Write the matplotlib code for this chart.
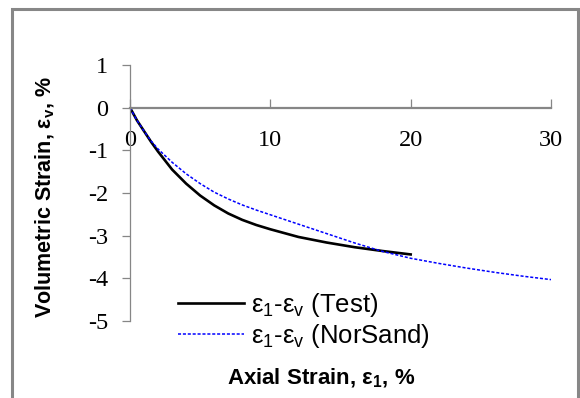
import matplotlib
matplotlib.use("Agg")
import matplotlib.pyplot as plt
from matplotlib.patches import Rectangle

plt.rcParams['mathtext.fontset'] = 'custom'
plt.rcParams['mathtext.rm'] = 'Liberation Sans'
plt.rcParams['mathtext.it'] = 'Liberation Sans:italic'
plt.rcParams['mathtext.bf'] = 'Liberation Sans:bold'

# Data
test_x = [0, 0.5, 1, 1.5, 2, 3, 4, 5, 6, 7, 8, 9, 10, 12, 14, 16, 18, 20]
test_y = [0, -0.3, -0.55, -0.8, -1.03, -1.45, -1.78, -2.06, -2.29, -2.48, -2.63,
          -2.75, -2.85, -3.03, -3.16, -3.27, -3.36, -3.44]
ns_x = [0, 0.5, 1, 1.5, 2, 3, 4, 5, 6, 7, 8, 9, 10, 12, 14, 16, 18, 20, 22, 24, 26, 28, 30]
ns_y = [0, -0.3, -0.55, -0.78, -0.97, -1.28, -1.55, -1.78, -1.98, -2.14, -2.28, -2.4,
        -2.51, -2.73, -2.95, -3.17, -3.37, -3.53, -3.65, -3.76, -3.86, -3.95, -4.03]
x_ticks = [0, 10, 20, 30]
y_ticks = [1, 0, -1, -2, -3, -4, -5]

W, H = 580, 398
fig = plt.figure(figsize=(W / 100, H / 100), dpi=100)

# outer frame
fig.patches.append(Rectangle((12 / W, -0.05), 566 / W, 1.05 - 9 / H, transform=fig.transFigure,
                             fill=False, edgecolor='#878787', linewidth=2.2))

ax = fig.add_axes([130 / W, 1 - 321 / H, 421 / W, 256 / H])
ax.plot(test_x, test_y, color='black', lw=1.9, label='ε$_1$-ε$_\\mathrm{v}$ (Test)')
ax.plot(ns_x, ns_y, color='#0000FF', lw=1.1, linestyle=(0, (2, 1.2)),
        label='ε$_1$-ε$_\\mathrm{v}$ (NorSand)')

ax.set_xlim(0, 30)
ax.set_ylim(-5, 1)
ax.spines['top'].set_visible(False)
ax.spines['right'].set_visible(False)
ax.spines['bottom'].set_position(('data', 0))
ax.spines['bottom'].set_color('#868686')
ax.spines['bottom'].set_linewidth(1.6)
ax.spines['left'].set_color('#868686')
ax.spines['left'].set_linewidth(0.9)

ax.set_xticks(x_ticks)
ax.set_xticklabels([str(v) for v in x_ticks], fontfamily='Liberation Serif', fontsize=17.5)
ax.set_yticks(y_ticks)
ax.set_yticklabels([str(v) for v in y_ticks], fontfamily='Liberation Serif', fontsize=17.5)
ax.tick_params(axis='x', direction='in', length=6.5, width=0.9, color='#868686', pad=16)
ax.tick_params(axis='y', direction='out', length=5.8, width=0.9, color='#868686', pad=10)

leg = fig.legend(loc='upper left', bbox_to_anchor=(178 / W, 1 - 291 / H), frameon=False,
                 prop={'family': 'Liberation Sans', 'size': 18.5},
                 handlelength=2.55, handletextpad=0.28, labelspacing=0.1, borderpad=0,
                 borderaxespad=0)

fig.text(321 / W, 1 - 378 / H, 'Axial Strain, ε$_\\mathbf{1}$, %', ha='center', va='center',
         fontfamily='Liberation Sans', fontweight='bold', fontsize=16)
fig.text(45 / W, 1 - 197 / H, 'Volumetric Strain, ε$_\\mathbf{v}$, %', ha='center', va='center',
         rotation=90, fontfamily='Liberation Sans', fontweight='bold', fontsize=15.5)

fig.savefig('out.png', dpi=100)
